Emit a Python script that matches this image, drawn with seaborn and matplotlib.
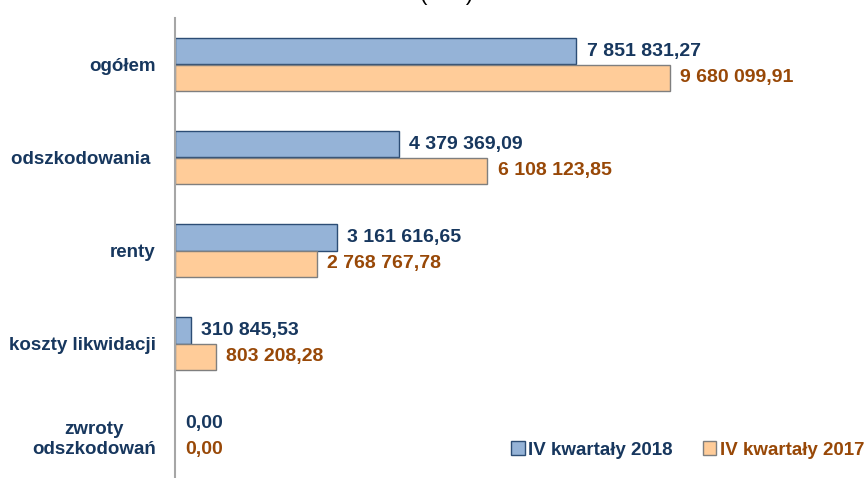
import pandas as pd
import matplotlib.pyplot as plt
import seaborn as sns
from matplotlib.patches import Patch

# Dane
kategorie = ['ogółem', 'odszkodowania ', 'renty', 'koszty likwidacji', 'zwroty\nodszkodowań']
wartosci_2018 = [7851831.27, 4379369.09, 3161616.65, 310845.53, 0.00]
wartosci_2017 = [9680099.91, 6108123.85, 2768767.78, 803208.28, 0.00]
serie = ['IV kwartały 2018', 'IV kwartały 2017']

df = pd.DataFrame({
    'kategoria': kategorie * 2,
    'wartosc': wartosci_2018 + wartosci_2017,
    'okres': [serie[0]] * len(kategorie) + [serie[1]] * len(kategorie),
})

sns.set_style('white')
plt.rcParams['font.family'] = ['Liberation Sans', 'DejaVu Sans']

kolory = {serie[0]: '#95B3D7', serie[1]: '#FFCC99'}
krawedzie = {serie[0]: '#2C4D75', serie[1]: '#7F7F7F'}
kolory_tekstu = {serie[0]: '#17375E', serie[1]: '#984807'}


def fmt(v):
    s = f'{v:,.2f}'
    return s.replace(',', ' ').replace('.', ',')


fig = plt.figure(figsize=(8.66, 4.78), dpi=100)
ax = fig.add_axes([175 / 866, -5 / 478, 691 / 866, 465 / 478])

sns.barplot(data=df, y='kategoria', x='wartosc', hue='okres', orient='h',
            palette=kolory, width=0.56, ax=ax, legend=False, saturation=1)

for cont, s in zip(ax.containers, serie):
    vals = wartosci_2018 if s == serie[0] else wartosci_2017
    for p, v in zip(cont, vals):
        p.set_edgecolor(krawedzie[s])
        p.set_linewidth(1.0 if v > 0 else 0)
    ax.bar_label(cont, labels=[fmt(v) for v in vals], padding=7.5,
                 color=kolory_tekstu[s], fontsize=14, fontweight='bold')

ax.set_xlim(0, 13.52e6)
ax.set_ylim(4.5, -0.5)
ax.set_xlabel('')
ax.set_ylabel('')
ax.set_xticks([])

for sp in ['top', 'right', 'bottom']:
    ax.spines[sp].set_visible(False)
ax.spines['left'].set_color('#A6A6A6')
ax.spines['left'].set_linewidth(1.5)

ax.tick_params(axis='y', which='major', length=0, pad=14)
ax.set_yticks([-0.5, 0.5, 1.5, 2.5, 3.5, 4.5], minor=True)
ax.tick_params(axis='y', which='minor', length=5, width=1, color='#A6A6A6', direction='out')
for t in ax.get_yticklabels():
    t.set_color('#17375E')
    t.set_fontweight('bold')
    t.set_fontsize(13.5)
    t.set_multialignment('center')

# Tytuł (ucięty u góry, jak w oryginale)
fig.text(447 / 866, 1.0, '(w zł)', ha='center', va='baseline', fontsize=16, color='black')

# Legenda
uchwyty = [Patch(facecolor=kolory[s], edgecolor=krawedzie[s], label=s) for s in serie]
leg = fig.legend(handles=uchwyty, loc='center right', bbox_to_anchor=(0.998, 1 - 450 / 478),
                 ncol=2, frameon=False, handlelength=0.7, handleheight=0.7, handletextpad=0.2,
                 columnspacing=1.6, borderaxespad=0, borderpad=0,
                 prop={'weight': 'bold', 'size': 13.5})
for txt, s in zip(leg.get_texts(), serie):
    txt.set_color(kolory_tekstu[s])

fig.savefig('out.png', dpi=100)
